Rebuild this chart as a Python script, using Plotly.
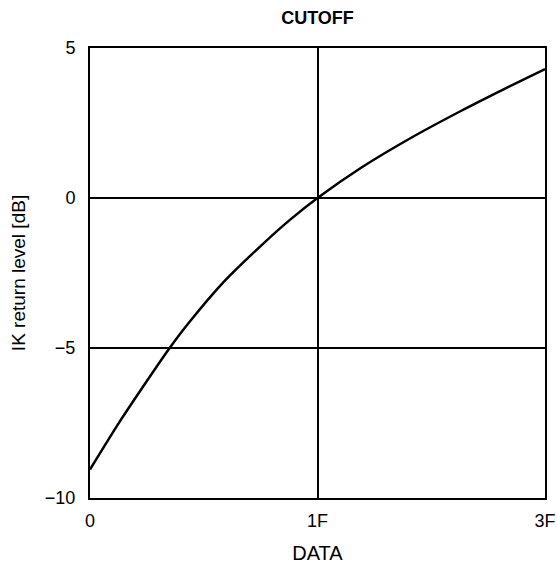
"""CUTOFF chart: IK return level vs data."""

import plotly.graph_objects as go

# Curve samples (x in tick-position units: 0 -> "0", 1 -> "1F", 2 -> "3F")
data_pos = [0.0, 0.125, 0.25, 0.35, 0.43, 0.59, 0.77, 0.88, 1.0,
            1.19, 1.41, 1.63, 1.82, 2.0]
return_level_db = [-9.05, -7.52, -6.1, -5.0, -4.2, -2.78, -1.46, -0.72, 0.0,
                   1.0, 2.0, 2.9, 3.63, 4.3]

x_tickvals = [0, 1, 2]
x_ticktext = ["0", "1F", "3F"]
y_tickvals = [-10, -5, 0, 5]
y_ticktext = ["\u221210", "\u22125", "0", "5"]

FONT = "Liberation Sans, Arial, sans-serif"

fig = go.Figure()

fig.add_trace(go.Scatter(
    x=data_pos,
    y=return_level_db,
    mode="lines",
    line=dict(color="black", width=2.5, shape="spline", smoothing=0.8),
    showlegend=False,
    hoverinfo="skip"
))

fig.update_layout(
    width=557,
    height=575,
    paper_bgcolor="white",
    plot_bgcolor="white",
    font=dict(family=FONT, size=18, color="black"),
    margin=dict(l=90, r=12, t=48, b=77, autoexpand=False),
    title=dict(
        text="<b>CUTOFF</b>",
        x=0.5, xref="paper", xanchor="center",
        y=1 - 18 / 575, yref="container", yanchor="middle",
        font=dict(family=FONT, size=18, color="black")
    ),
    xaxis=dict(
        range=[0, 2],
        tickvals=x_tickvals,
        ticktext=x_ticktext,
        showgrid=True, gridcolor="black", gridwidth=1.5,
        zeroline=False,
        showline=True, mirror=True, linecolor="black", linewidth=2,
        ticks="", ticklabelstandoff=5,
        title=dict(text="DATA", standoff=16, font=dict(size=20)),
        automargin=False,
        fixedrange=True
    ),
    yaxis=dict(
        range=[-10, 5],
        tickvals=y_tickvals,
        ticktext=y_ticktext,
        showgrid=True, gridcolor="black", gridwidth=1.5,
        zeroline=False,
        showline=True, mirror=True, linecolor="black", linewidth=2,
        ticks="", ticklabelstandoff=9,
        title=dict(text="IK return level [dB]", standoff=14, font=dict(size=19)),
        automargin=False,
        fixedrange=True
    )
)

# drop the default page margin so the figure sits flush in the window
fig.write_html(
    "out.html",
    config={"displayModeBar": False},
    post_script="document.body.style.margin='0';document.body.style.overflow='hidden';"
)
